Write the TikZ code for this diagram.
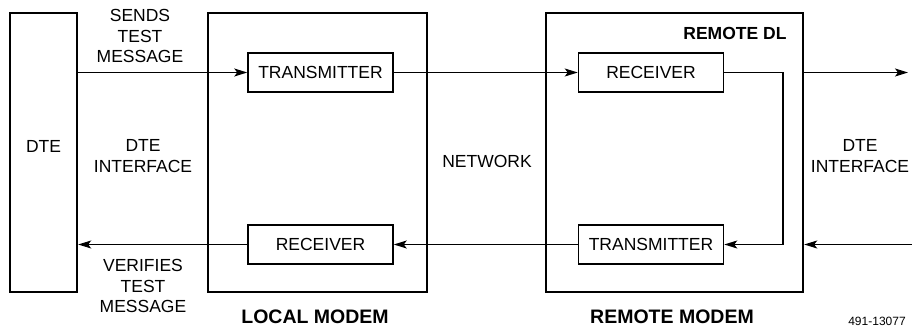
\documentclass[tikz,border=0pt]{standalone}
\usepackage{fontspec}
\setmainfont{Liberation Sans}
\usetikzlibrary{arrows.meta, positioning}

\begin{document}
\begin{tikzpicture}[
   x=1pt, y=-1pt, >={Stealth[length=13pt, width=8pt, inset=3pt]},
   big/.style={draw, line width=2.4pt, inner sep=0pt},
   unit/.style={draw, line width=1.5pt, inner sep=0pt, minimum width=145pt, minimum height=39pt,
               font=\fontsize{17.5}{20}\selectfont},
   lab/.style={align=center, font=\fontsize{17.5}{20.5}\selectfont},
   head/.style={font=\fontsize{19.5}{22}\selectfont\bfseries},
   sig/.style={line width=1.3pt}]
  \useasboundingbox (0,0) rectangle (912,328);
  % outer boxes
  \node[big, minimum width=67pt, minimum height=279pt] (dte) at (43.5,152.5) {};
  \node[big, minimum width=219pt, minimum height=279pt] (local) at (317.5,152.5) {};
  \node[big, minimum width=257pt, minimum height=279pt] (remote) at (674.5,152.5) {};
  \node[lab] (dtelab) at (43.5,146) {DTE};
  % units inside the modems
  \node[unit] (ltx) at (320.5,72.5) {TRANSMITTER};
  \node[unit] (lrx) at (320.5,244.5) {RECEIVER};
  \node[unit] (rrx) at (651,72.5) {RECEIVER};
  \node[unit] (rtx) at (651,244.5) {TRANSMITTER};
  \node[font=\fontsize{17.5}{20}\selectfont\bfseries, anchor=east] (dl) at (790,33) {REMOTE DL};
  % labels
  \node[lab] (sends) at (140,36) {SENDS\\TEST\\MESSAGE};
  \node[lab] (ifl) at (143,156) {DTE\\INTERFACE};
  \node[lab] (net) at (487,161) {NETWORK};
  \node[lab] (ifr) at (860,156) {DTE\\INTERFACE};
  \node[lab] (verif) at (143,286) {VERIFIES\\TEST\\MESSAGE};
  \node[head] (lm) at (315,317) {LOCAL MODEM};
  \node[head] (rm) at (672,317) {REMOTE MODEM};
  \node[font=\fontsize{12}{14}\selectfont] (fig) at (877,321) {491-13077};
  % signal paths
  \coordinate (outr) at (908,72.5);
  \coordinate (inr) at (912,244.5);
  \coordinate (loop) at (783,160);
  \draw[sig, ->] (ltx.west -| dte.east) -- (ltx.west);
  \draw[sig, ->] (ltx.east) -- (rrx.west);
  \draw[sig, ->] (rrx.east) -| (loop) |- (rtx.east);
  \draw[sig, ->] (outr -| remote.east) -- (outr);
  \draw[sig, ->] (inr) -- (inr -| remote.east);
  \draw[sig, ->] (rtx.west) -- (lrx.east);
  \draw[sig, ->] (lrx.west) -- (lrx.west -| dte.east);
\end{tikzpicture}
\end{document}
